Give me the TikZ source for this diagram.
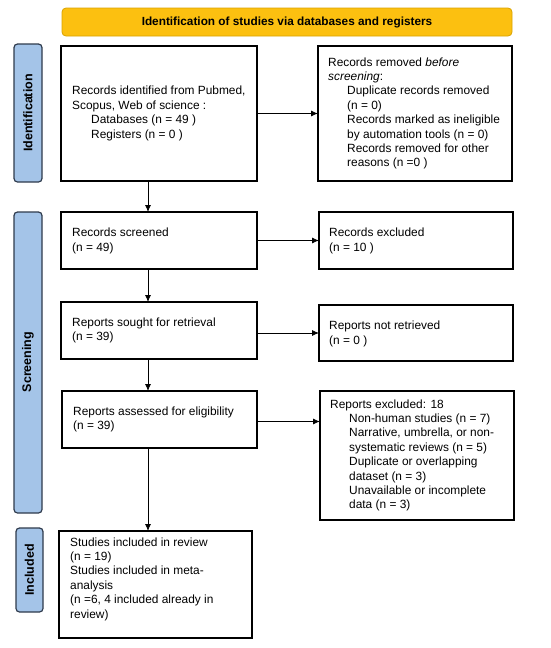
\documentclass[tikz,border=0pt]{standalone}
\usepackage{fontspec}
\setmainfont{Liberation Sans}
\usetikzlibrary{arrows.meta}
\definecolor{hdrfill}{HTML}{FCC010}
\definecolor{hdrdraw}{HTML}{D9A200}
\definecolor{sidefill}{HTML}{A4C4E8}
\definecolor{sidedraw}{HTML}{2E3A4C}
\begin{document}
\begin{tikzpicture}[x=1pt,y=-1pt,
  box/.style={draw=black,line width=1.4pt,inner sep=0pt,outer sep=0pt},
  txt/.style={anchor=west,align=left,inner sep=0pt,font=\fontsize{11.9}{14.4}\selectfont},
  side/.style={draw=sidedraw,fill=sidefill,line width=1.2pt,rounded corners=3.5pt},
  sidelbl/.style={rotate=90,font=\bfseries\fontsize{12.5}{14}\selectfont,inner sep=0pt},
  arr/.style={-{Latex[length=7pt,width=6pt]},line width=0.8pt}]
\useasboundingbox (0,0) rectangle (550,648);
% header
\draw[fill=hdrfill,draw=hdrdraw,line width=0.8pt,rounded corners=4pt] (62,8) rectangle (512,36);
\node[font=\bfseries\fontsize{11.8}{13}\selectfont] (hdr) at (287,22) {Identification of studies via databases and registers};
% side bars
\draw[side] (14,44) rectangle (42,182);
\node[sidelbl] (sidid) at (28,113) {Identification};
\draw[side] (14,212) rectangle (42,513);
\node[sidelbl] (sidsc) at (28,362) {Screening};
\draw[side] (16,528) rectangle (43,612);
\node[sidelbl] (sidin) at (29.5,570) {Included};
% boxes
\node[box,minimum width=196pt,minimum height=135pt] (b1) at (159,113.5) {};
\node[txt] (t1) at (72,113.5) {Records identified from Pubmed,\\Scopus, Web of science :\\\hspace{19pt}Databases (n = 49 )\\\hspace{19pt}Registers (n = 0 )};
\node[box,minimum width=194pt,minimum height=135pt] (r1) at (415,113.5) {};
\node[txt] (rt1) at (328,113.5) {Records removed \textit{before}\\\textit{screening}:\\\hspace{19pt}Duplicate records removed\\\hspace{19pt}(n = 0)\\\hspace{19pt}Records marked as ineligible\\\hspace{19pt}by automation tools (n = 0)\\\hspace{19pt}Records removed for other\\\hspace{19pt}reasons (n =0 )};
\node[box,minimum width=196pt,minimum height=57pt] (b2) at (159,240.5) {};
\node[txt] (t2) at (72,241) {Records screened\\(n = 49)};
\node[box,minimum width=194pt,minimum height=57pt] (r2) at (416,240.5) {};
\node[txt] (rt2) at (329,241) {Records excluded\\(n = 10 )};
\node[box,minimum width=196pt,minimum height=57pt] (b3) at (159,330.5) {};
\node[txt] (t3) at (72,330.5) {Reports sought for retrieval\\(n = 39)};
\node[box,minimum width=194pt,minimum height=56pt] (r3) at (416,333) {};
\node[txt] (rt3) at (329,334) {Reports not retrieved\\(n = 0 )};
\node[box,minimum width=195pt,minimum height=57pt] (b4) at (159.5,419.5) {};
\node[txt] (t4) at (73,419.5) {Reports assessed for eligibility\\(n = 39)};
\node[box,minimum width=194pt,minimum height=129pt] (r4) at (417,455.5) {};
\node[txt] (rt4) at (330,455.5) {Reports excluded: 18\\\hspace{19pt}Non-human studies (n = 7)\\\hspace{19pt}Narrative, umbrella, or non-\\\hspace{19pt}systematic reviews (n = 5)\\\hspace{19pt}Duplicate or overlapping\\\hspace{19pt}dataset (n = 3)\\\hspace{19pt}Unavailable or incomplete\\\hspace{19pt}data (n = 3)};
\node[box,minimum width=193pt,minimum height=107pt] (b5) at (155.5,584.5) {};
\node[txt] (t5) at (70,579) {Studies included in review\\(n = 19)\\Studies included in meta-\\analysis\\(n =6, 4 included already in\\review)};
% arrows
\draw[arr] (b1.east) -- (r1.west);
\draw[arr] (b2.east) -- (r2.west);
\draw[arr] (b3.east |- r3.west) -- (r3.west);
\draw[arr] (b4.east |- r4.west) ++(0,-34) coordinate (a4s) -- (r4.west |- a4s);
\draw[arr] (148,181) -- (148,212);
\draw[arr] (148,269) -- (148,302);
\draw[arr] (148,359) -- (148,391);
\draw[arr] (148,448) -- (148,531);
\end{tikzpicture}
\end{document}
